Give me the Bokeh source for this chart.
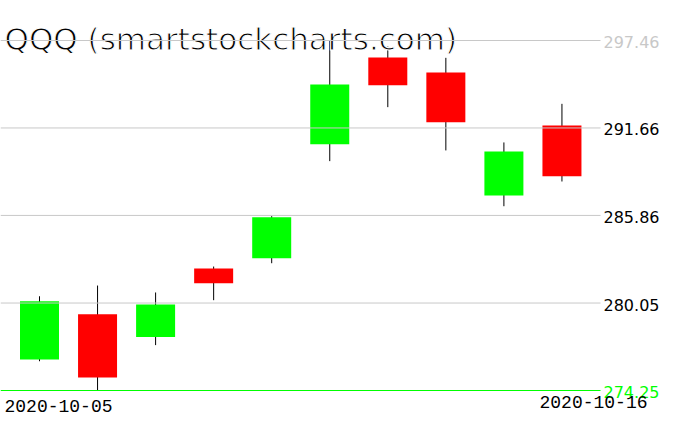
from bokeh.plotting import figure
from bokeh.models import ColumnDataSource, Range1d
from bokeh.core.properties import value
from bokeh.embed import file_html
from bokeh.resources import INLINE

# ---- data ----
dates = ["2020-10-05", "2020-10-06", "2020-10-07", "2020-10-08", "2020-10-09",
         "2020-10-12", "2020-10-13", "2020-10-14", "2020-10-15", "2020-10-16"]
opens = [276.31, 279.31, 277.79, 282.34, 283.02, 290.58, 296.33, 295.34, 287.18, 291.82]
closes = [280.17, 275.11, 279.95, 281.37, 285.74, 294.54, 294.50, 292.04, 290.10, 288.46]
highs = [280.50, 281.21, 280.75, 282.47, 285.81, 297.46, 297.06, 296.31, 290.70, 293.26]
lows = [276.19, 274.25, 277.26, 280.24, 282.69, 289.46, 293.04, 290.17, 286.47, 288.11]
tick_values = [274.25, 280.05, 285.86, 291.66, 297.46]
tick_labels = ["274.25", "280.05", "285.86", "291.66", "297.46"]
title_text = "QQQ (smartstockcharts.com)"

# ---- layout constants (pixels in figure) ----
W, H = 660, 415
X0_PX = 39.0          # pixel of first candle centre
PX_PER_X = 58.05      # pixels between candles
Y_TOP_PX = 40.0       # pixel of highest grid line
Y_BOT_PX = 390.0      # pixel of lowest grid line

y_hi = max(tick_values)
y_lo = min(tick_values)
ppy = (Y_BOT_PX - Y_TOP_PX) / (y_hi - y_lo)


def px_to_x(px):
    return (px - X0_PX) / PX_PER_X


def py_to_y(py):
    return y_hi - (py - Y_TOP_PX) / ppy


x_range = Range1d(px_to_x(0), px_to_x(W))
y_range = Range1d(py_to_y(H), py_to_y(0))

idx = list(range(len(dates)))
colors = ["#00ff00" if c >= o else "#ff0000" for o, c in zip(opens, closes)]
src = ColumnDataSource(dict(
    x=idx, top=[max(o, c) for o, c in zip(opens, closes)],
    bottom=[min(o, c) for o, c in zip(opens, closes)],
    high=highs, low=lows, color=colors))

p = figure(width=W, height=H, x_range=x_range, y_range=y_range,
           output_backend="svg", toolbar_location=None,
           x_axis_location=None, y_axis_location=None,
           min_border=0, min_border_left=0, min_border_right=0,
           min_border_top=0, min_border_bottom=0)
p.outline_line_color = None
p.grid.visible = False
p.background_fill_color = "white"
p.border_fill_color = "white"

SANS = value("DejaVu Sans")

# wicks
p.segment(x0="x", x1="x", y0="low", y1="high", source=src,
          line_color="black", line_width=1)
# bodies
p.vbar(x="x", width=39 / PX_PER_X, top="top", bottom="bottom", source=src,
       fill_color="color", line_color=None)

# title (thin strokes via white outline)
p.text(x=[px_to_x(4)], y=[py_to_y(38)], text=[title_text],
       text_color="black", text_font=SANS, text_outline_color="white",
       text_font_size="31px", text_align="left", text_baseline="alphabetic")

# grid lines (drawn over candles)
gx0, gx1 = px_to_x(0), px_to_x(600)
grid_vals = tick_values[1:]
p.segment(x0=[gx0] * len(grid_vals), x1=[gx1] * len(grid_vals),
          y0=grid_vals, y1=grid_vals, line_color="#c8c8c8", line_width=1)
p.segment(x0=[gx0], x1=[gx1], y0=[tick_values[0]], y1=[tick_values[0]],
          line_color="#00ff00", line_width=1.2)

# right axis labels
label_colors = ["#00ff00", "black", "black", "black", "#c8c8c8"]
p.text(x=[px_to_x(603)] * len(tick_values), y=tick_values, text=tick_labels,
       text_color=label_colors, text_font=SANS,
       text_font_size="16px", text_align="left", text_baseline="alphabetic",
       y_offset=1.5)

# date labels
p.text(x=[px_to_x(4)], y=[py_to_y(405)], text=[dates[0]],
       text_color="black", text_font=value("Liberation Mono"),
       text_font_size="18px", text_align="left", text_baseline="alphabetic")
p.text(x=[px_to_x(647)], y=[py_to_y(401)], text=[dates[-1]],
       text_color="black", text_font=value("Liberation Mono"),
       text_font_size="18px", text_align="right", text_baseline="alphabetic")

open("out.html", "w").write(file_html(p, INLINE))
